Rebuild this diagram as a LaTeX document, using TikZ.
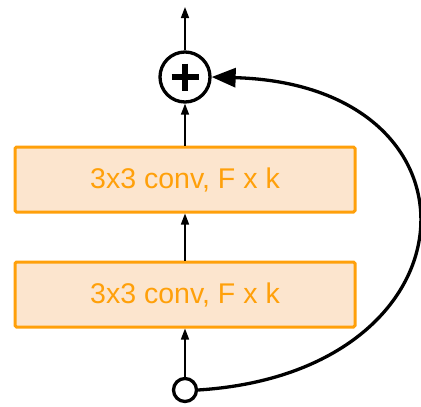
\documentclass[tikz,border=0pt]{standalone}
\usepackage{fontspec}
\setmainfont{Liberation Sans}
\usetikzlibrary{arrows.meta}
\definecolor{boxorange}{RGB}{255,160,10}
\definecolor{boxfill}{RGB}{252,229,206}
\begin{document}
\begin{tikzpicture}[x=1pt,y=-1pt,
  convbox/.style={draw=boxorange,fill=boxfill,line width=3pt,rounded corners=1.5pt,
    minimum width=340pt,minimum height=65pt,inner sep=0pt,
    text=boxorange,font=\fontsize{28.5}{31}\selectfont},
  thinarrow/.style={line width=1.6pt,-{Triangle[length=11pt,width=8pt]}},
  ring/.style={circle,draw,line width=3.3pt,inner sep=0pt}]
\useasboundingbox (0,0) rectangle (421,407);
\node[ring,minimum size=50pt] (plus) at (185,77) {};
\draw[line width=6.5pt] (171.5,77) -- (198.5,77) (185,63.5) -- (185,90.5);
\coordinate (top) at (185,7);
\node[convbox] (c1) at (185,179.5) {3x3 conv, F x k};
\node[convbox] (c2) at (185,294.5) {3x3 conv, F x k};
\node[ring,minimum size=23pt] (in) at (185,390) {};
\draw[thinarrow] (plus) -- (top);
\draw[thinarrow] (c1) -- (plus);
\draw[thinarrow] (c2) -- (c1);
\draw[thinarrow] (in) -- (c2);
\draw[line width=3.3pt,-{Triangle[length=24pt,width=19pt]}] (in.east) .. controls (482,372) and (495,85) .. (plus.east);
\end{tikzpicture}
\end{document}
